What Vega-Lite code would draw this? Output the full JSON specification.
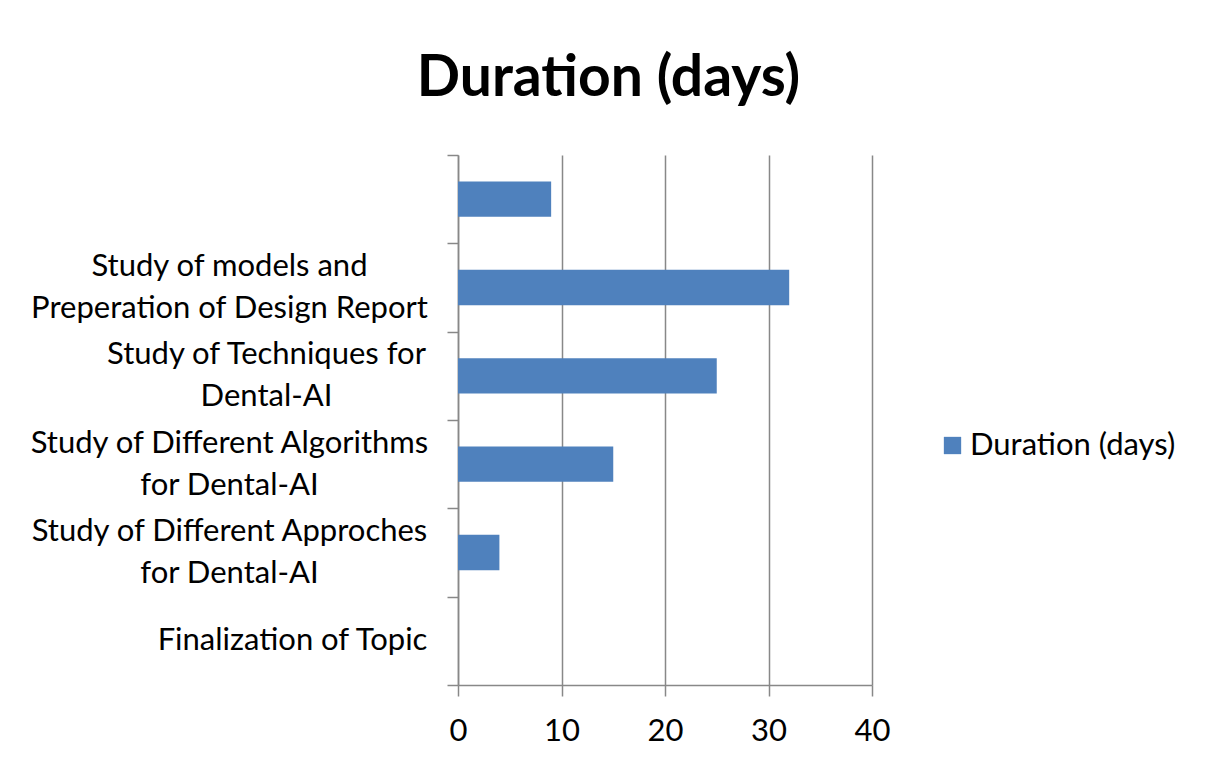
{
  "$schema": "https://vega.github.io/schema/vega-lite/v6.json",
  "width": 414,
  "height": 530,
  "autosize": {"type": "none"},
  "padding": {"left": 458, "top": 155, "right": 334, "bottom": 85},
  "background": "white",
  "title": {
    "text": "Duration (days)",
    "font": "Lato",
    "fontSize": 57,
    "fontWeight": "bold",
    "color": "#000000",
    "anchor": "middle",
    "frame": "bounds",
    "offset": 31,
    "dx": 6
  },
  "data": {
    "values": [
      {"task": " ", "days": 9},
      {"task": "Study of models and\nPreperation of Design Report", "days": 32},
      {"task": "Study of Techniques for\nDental-AI", "days": 25},
      {"task": "Study of Different Algorithms\nfor Dental-AI", "days": 15},
      {"task": "Study of Different Approches\nfor Dental-AI", "days": 4},
      {"task": "Finalization of Topic", "days": 0}
    ]
  },
  "mark": {"type": "bar", "color": "#4F81BD", "height": {"band": 0.4}},
  "encoding": {
    "y": {
      "field": "task",
      "type": "nominal",
      "sort": [" ", "Study of models and\nPreperation of Design Report", "Study of Techniques for\nDental-AI", "Study of Different Algorithms\nfor Dental-AI", "Study of Different Approches\nfor Dental-AI", "Finalization of Topic"],
      "scale": {"paddingInner": 0, "paddingOuter": 0},
      "axis": {
        "title": null,
        "grid": false,
        "tickBand": "extent",
        "tickSize": 11,
        "tickWidth": 1.5,
        "tickColor": "#888888",
        "domainColor": "#888888",
        "domainWidth": 1.5,
        "labelFont": "Lato",
        "labelFontSize": 31,
        "labelColor": "#000000",
        "labelAlign": "center",
        "labelBaseline": "middle",
        "labelLineHeight": 42,
        "labelLimit": 600,
        "labelPadding": {
          "condition": [
            {"test": "isObject(datum) && datum.value == 'Finalization of Topic'", "value": 155},
            {"test": "isObject(datum) && datum.value == 'Study of Techniques for\\nDental-AI'", "value": 181}
          ],
          "value": 218
        },
        "labelOffset": {
          "condition": {"test": "isObject(datum) && isString(datum.value) && indexof(datum.value, '\\n') >= 0", "value": -21},
          "value": 0
        },
        "labelExpr": "isString(datum.value) ? split(datum.value, '\\n') : ''"
      }
    },
    "x": {
      "field": "days",
      "type": "quantitative",
      "scale": {"domain": [0, 40]},
      "axis": {
        "title": null,
        "values": [0, 10, 20, 30, 40],
        "grid": true,
        "gridColor": "#888888",
        "gridWidth": 1.5,
        "tickSize": 11,
        "tickWidth": 1.5,
        "tickColor": "#888888",
        "domainColor": "#888888",
        "domainWidth": 1.5,
        "labelFont": "Lato",
        "labelFontSize": 31,
        "labelColor": "#000000",
        "labelPadding": 20,
        "labelFlush": false
      }
    },
    "color": {
      "datum": "Duration (days)",
      "scale": {"range": ["#4F81BD"]},
      "legend": {
        "title": null,
        "orient": "none",
        "legendX": 479,
        "legendY": 275,
        "symbolType": "square",
        "symbolSize": 300,
        "symbolStrokeWidth": 0,
        "symbolOpacity": 1,
        "labelFont": "Lato",
        "labelFontSize": 31,
        "labelColor": "#000000",
        "labelOffset": 2,
        "labelLimit": 400
      }
    }
  },
  "config": {"view": {"stroke": null}}
}
